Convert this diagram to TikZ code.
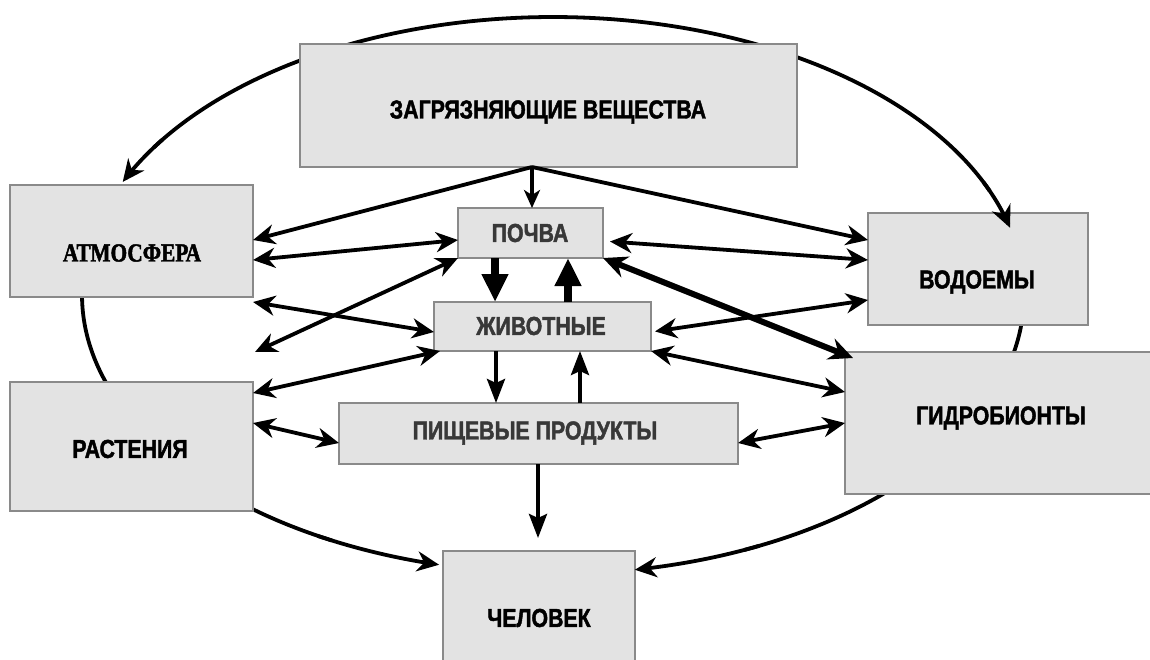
\documentclass[tikz,border=0pt]{standalone}
\usepackage{fontspec}
\setmainfont{Liberation Sans}
\newfontfamily\condfont[FakeStretch=0.82,BoldFeatures={FakeBold=1.6}]{Liberation Sans}
\newfontfamily\serifcond[FakeStretch=0.82,BoldFeatures={FakeBold=1.8}]{Liberation Serif}
\usetikzlibrary{arrows.meta,fit}
\definecolor{boxfill}{HTML}{E3E3E3}
\definecolor{boxline}{HTML}{8A8A8A}
\definecolor{dimtext}{HTML}{383838}
\begin{document}
\begin{tikzpicture}[x=0.5pt,y=-0.5pt,
  box/.style={draw=boxline,line width=0.9pt,fill=boxfill,inner sep=0pt,outer sep=0pt},
  txt/.style={font=\condfont\bfseries\fontsize{13}{15}\selectfont,inner sep=0pt},
  dim/.style={text=dimtext},
  con/.style={line width=1.9pt},
  thin con/.style={line width=1.6pt},
  thick con/.style={line width=3pt},
  fat con/.style={line width=4pt},
  hd/.style={-{Stealth[length=11pt,width=10pt,inset=3.5pt]}},
  dhd/.style={{Stealth[length=11pt,width=10pt,inset=3.5pt]}-{Stealth[length=11pt,width=10pt,inset=3.5pt]}},
  smallhd/.style={-{Stealth[length=9pt,width=8pt,inset=2.5pt]}},
  longhd/.style={-{Stealth[length=12pt,width=9pt,inset=2pt]}},
  bighd/.style={-{Triangle[length=14pt,width=12.5pt]}},
  bigdhd/.style={{Stealth[length=12pt,width=11pt,inset=4pt]}-{Stealth[length=12pt,width=11pt,inset=4pt]}}
]
\useasboundingbox (0,0) rectangle (1150,659);
\clip (0,0) rectangle (1150,659);
\fill[white] (0,0) rectangle (1150,659);

% the big ellipse, plain parts behind the boxes
\draw[con] plot[domain=212:338,samples=90,smooth] ({553+471*cos(\x)},{295+278*sin(\x)});
\draw[con] plot[domain=186:158,samples=20,smooth] ({553+471*cos(\x)},{295+278*sin(\x)});
\draw[con] plot[domain=-6:16,samples=20,smooth] ({553+471*cos(\x)},{295+278*sin(\x)});
\draw[con] plot[domain=140:118,samples=20,smooth] ({553+471*cos(\x)},{295+278*sin(\x)});
\draw[con] plot[domain=40:66,samples=20,smooth] ({553+471*cos(\x)},{295+279*sin(\x)});

% boxes
\node[box,fit={(300,44) (797,167)}] (zv) {};
\node[box,fit={(10,185) (253,297)}] (atm) {};
\node[box,fit={(458,208) (603,258)}] (pochva) {};
\node[box,fit={(434,302) (651,351)}] (zhiv) {};
\node[box,fit={(339,403) (738,464)}] (pish) {};
\node[box,fit={(10,382) (253,511)}] (rast) {};
\node[box,fit={(443,551) (635,700)}] (chel) {};
\node[box,fit={(868,213) (1088,325)}] (vod) {};
\node[box,fit={(845,352) (1160,494)}] (gidro) {};

% ellipse ends with arrowheads, over the boxes
\draw[con,hd] plot[domain=214:204,samples=10,smooth] ({553+471*cos(\x)},{295+278*sin(\x)});
\draw[con,hd] plot[domain=336:346,samples=10,smooth] ({553+471*cos(\x)},{295+278*sin(\x)});
\draw[con,hd] plot[domain=120:104,samples=12,smooth] ({553+471*cos(\x)},{295+278*sin(\x)});
\draw[con,hd] plot[domain=64:80,samples=12,smooth] ({553+471*cos(\x)},{295+279*sin(\x)});

% texts
\node[txt] (zvT) at (548,112) {ЗАГРЯЗНЯЮЩИЕ ВЕЩЕСТВА};
\node[inner sep=0pt,font=\serifcond\bfseries\fontsize{13}{15}\selectfont] (atmT) at (132,253) {АТМОСФЕРА};
\node[txt,dim] (pochvaT) at (530,233) {ПОЧВА};
\node[txt,dim] (zhivT) at (541,326) {ЖИВОТНЫЕ};
\node[txt,dim] (pishT) at (535,433) {ПИЩЕВЫЕ ПРОДУКТЫ};
\node[txt] (rastT) at (130,449) {РАСТЕНИЯ};
\node[txt] (chelT) at (539,618) {ЧЕЛОВЕК};
\node[txt] (vodT) at (977,282) {ВОДОЕМЫ};
\node[txt] (gidroT) at (1001,418) {ГИДРОБИОНТЫ};

% connectors
\coordinate (zvb) at (zv.south -| 532,0);
\coordinate (free) at (255,352);
\draw[thin con,smallhd] (zvb) -- (pochva.north -| 532,0);
\draw[con,hd] (zvb) -- (atm.east |- 0,240);
\draw[con,hd] (zvb) -- (vod.west |- 0,240);
\draw[con,dhd] (atm.east |- 0,260) -- (pochva.west |- 0,240);
\draw[con,dhd,shorten <=3.5pt] (pochva.east |- 0,241) -- (vod.west |- 0,260);
\draw[thick con,bigdhd] (pochva.south east) -- ([xshift=4pt,yshift=-3pt]gidro.north west);
\draw[con,dhd] (pochva.south west) -- (free);
\draw[con,dhd] (atm.east |- 0,302) -- (zhiv.west |- 0,332);
\draw[con,dhd] (rast.east |- 0,393) -- ([xshift=3pt]zhiv.south west);
\draw[con,dhd] (rast.east |- 0,423) -- (pish.west |- 0,443);
\draw[fat con,bighd] (pochva.south -| 495,0) -- (zhiv.north -| 495,0);
\draw[fat con,bighd] (zhiv.north -| 568,0) -- (pochva.south -| 568,0);
\draw[con,longhd] (zhiv.south -| 496,0) -- (pish.north -| 496,0);
\draw[con,longhd] (pish.north -| 580,0) -- (zhiv.south -| 580,0);
\draw[con,longhd,shorten >=6.5pt] (pish.south -| 538,0) -- (chel.north -| 538,0);
\draw[con,dhd,shorten <=2pt] (zhiv.east |- 0,332) -- (vod.west |- 0,300);
\draw[con,dhd] (zhiv.south east) -- (gidro.west |- 0,392);
\draw[con,dhd] (pish.east |- 0,443) -- (gidro.west |- 0,423);
\end{tikzpicture}
\end{document}
